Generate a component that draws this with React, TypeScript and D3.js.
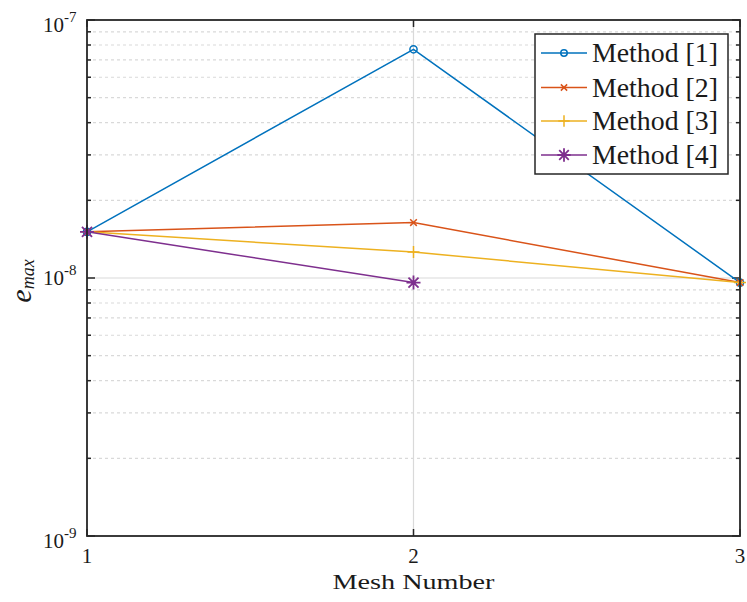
import React from "react";
import * as d3 from "d3";

const meshNumbers = [1, 2, 3];
const method1 = [1.51e-8, 7.7e-8, 9.6e-9];
const method2 = [1.51e-8, 1.64e-8, 9.6e-9];
const method3 = [1.51e-8, 1.26e-8, 9.6e-9];
const method4 = [1.51e-8, 9.6e-9];
const seriesNames = ["Method [1]", "Method [2]", "Method [3]", "Method [4]"];
const seriesColors = ["#0072BD", "#D95319", "#EDB120", "#7E2F8E"];
const seriesMarkers = ["circle", "x", "plus", "star"];
const yMajorExponents = [-9, -8, -7];
const xTicks = [1, 2, 3];

const W = 747;
const H = 602;
const M = { left: 87, right: 740, top: 20, bottom: 536 };
const AXIS = "#262626";
const GRID = "#d9d9d9";
const FONT = "'Liberation Serif', 'Times New Roman', serif";

function Marker({ kind, x, y, color, scale = 1 }: { kind: string; x: number; y: number; color: string; scale?: number }) {
  const sw = 1.5;
  if (kind === "circle") {
    const r = 3.6 * scale;
    return <circle cx={x} cy={y} r={r} fill="none" stroke={color} strokeWidth={sw} />;
  }
  if (kind === "x") {
    const a = 3.3 * scale;
    return (
      <path d={`M${x - a},${y - a}L${x + a},${y + a}M${x - a},${y + a}L${x + a},${y - a}`} stroke={color} strokeWidth={sw} />
    );
  }
  if (kind === "plus") {
    const a = 6 * scale;
    return <path d={`M${x - a},${y}L${x + a},${y}M${x},${y - a}L${x},${y + a}`} stroke={color} strokeWidth={sw} />;
  }
  const a = 7 * scale;
  const b = a * 0.72;
  return (
    <path
      d={`M${x - a},${y}L${x + a},${y}M${x},${y - a}L${x},${y + a}M${x - b},${y - b}L${x + b},${y + b}M${x - b},${y + b}L${x + b},${y - b}`}
      stroke={color}
      strokeWidth={sw + 0.3}
    />
  );
}

export default function App() {
  const x = d3.scaleLinear().domain([1, 3]).range([M.left, M.right]);
  const y = d3.scaleLog().domain([1e-9, 1e-7]).range([M.bottom, M.top]);

  const series = [method1, method2, method3, method4];
  const line = d3
    .line<number>()
    .x((_, i) => x(meshNumbers[i]))
    .y((d) => y(d));

  // minor decade values 2..9 × 10^k
  const minorValues: number[] = [];
  for (const e of [-9, -8]) {
    for (let m = 2; m <= 9; m++) minorValues.push(m * Math.pow(10, e));
  }

  const legendRows = [53, 87.5, 121, 155];

  return (
    <svg width={W} height={H} style={{ position: "absolute", left: 0, top: 0, background: "#fff" }}>
      <rect x={0} y={0} width={W} height={H} fill="#fff" />
      {/* minor grid */}
      {minorValues.map((v) => (
        <line key={"mg" + v} x1={M.left} x2={M.right} y1={y(v)} y2={y(v)} stroke={GRID} strokeWidth={1.2} strokeDasharray="3,3" />
      ))}
      {/* major grid */}
      {yMajorExponents.slice(1, -1).map((e) => (
        <line key={"Mg" + e} x1={M.left} x2={M.right} y1={y(Math.pow(10, e))} y2={y(Math.pow(10, e))} stroke={GRID} strokeWidth={1.2} />
      ))}
      {xTicks.slice(1, -1).map((t) => (
        <line key={"xg" + t} x1={x(t)} x2={x(t)} y1={M.top} y2={M.bottom} stroke={GRID} strokeWidth={1.2} />
      ))}

      {/* ticks */}
      {minorValues.map((v) => (
        <g key={"mt" + v}>
          <line x1={M.left} x2={M.left + 4} y1={y(v)} y2={y(v)} stroke={AXIS} strokeWidth={1.5} />
          <line x1={M.right} x2={M.right - 4} y1={y(v)} y2={y(v)} stroke={AXIS} strokeWidth={1.5} />
        </g>
      ))}
      {yMajorExponents.map((e) => (
        <g key={"Mt" + e}>
          <line x1={M.left} x2={M.left + 8} y1={y(Math.pow(10, e))} y2={y(Math.pow(10, e))} stroke={AXIS} strokeWidth={1.5} />
          <line x1={M.right} x2={M.right - 8} y1={y(Math.pow(10, e))} y2={y(Math.pow(10, e))} stroke={AXIS} strokeWidth={1.5} />
        </g>
      ))}
      {xTicks.map((t) => (
        <g key={"xt" + t}>
          <line x1={x(t)} x2={x(t)} y1={M.bottom} y2={M.bottom - 7} stroke={AXIS} strokeWidth={1.5} />
          <line x1={x(t)} x2={x(t)} y1={M.top} y2={M.top + 7} stroke={AXIS} strokeWidth={1.5} />
        </g>
      ))}

      {/* series */}
      {series.map((s, i) => (
        <g key={"s" + i}>
          <path d={line(s) || ""} fill="none" stroke={seriesColors[i]} strokeWidth={1.5} />
          {s.map((v, j) => (
            <Marker key={j} kind={seriesMarkers[i]} x={x(meshNumbers[j])} y={y(v)} color={seriesColors[i]} />
          ))}
        </g>
      ))}

      {/* axes box */}
      <rect x={M.left} y={M.top} width={M.right - M.left} height={M.bottom - M.top} fill="none" stroke={AXIS} strokeWidth={1.8} />

      {/* y tick labels */}
      {yMajorExponents.map((e) => {
        const yy = y(Math.pow(10, e)) + (e === -8 ? 7 : 12);
        return (
          <text key={"yl" + e} x={64} y={yy} fontFamily={FONT} fontSize={21} fill="#1a1a1a" textAnchor="end">
            10
            <tspan x={64} dy={-10} fontSize={15} textAnchor="start">{"-" + Math.abs(e)}</tspan>
          </text>
        );
      })}

      {/* x tick labels */}
      {xTicks.map((t) => (
        <text key={"xl" + t} x={x(t)} y={563} fontFamily={FONT} fontSize={21} fill="#1a1a1a" textAnchor="middle">
          {t}
        </text>
      ))}

      {/* axis titles */}
      <text x={x(2)} y={589} fontFamily={FONT} fontSize={22} fill="#1a1a1a" textAnchor="middle" textLength={162} lengthAdjust="spacingAndGlyphs">
        Mesh Number
      </text>
      <text transform={`translate(31,281) rotate(-90)`} fontFamily={FONT} fontStyle="italic" fill="#1a1a1a" textAnchor="middle">
        <tspan fontSize={30}>e</tspan>
        <tspan fontSize={18} dy={3}>max</tspan>
      </text>

      {/* legend */}
      <rect x={535} y={34} width={193} height={140} fill="#fff" stroke={AXIS} strokeWidth={1.5} />
      {seriesNames.map((name, i) => (
        <g key={"lg" + i}>
          <line x1={541} x2={587} y1={legendRows[i]} y2={legendRows[i]} stroke={seriesColors[i]} strokeWidth={1.5} />
          <Marker kind={seriesMarkers[i]} x={564} y={legendRows[i]} color={seriesColors[i]} scale={seriesMarkers[i] === "circle" ? 0.9 : 0.95} />
          <text x={592} y={legendRows[i] + 9} fontFamily={FONT} fontSize={27} fill="#1a1a1a" textLength={126} lengthAdjust="spacingAndGlyphs">
            {name}
          </text>
        </g>
      ))}
    </svg>
  );
}
